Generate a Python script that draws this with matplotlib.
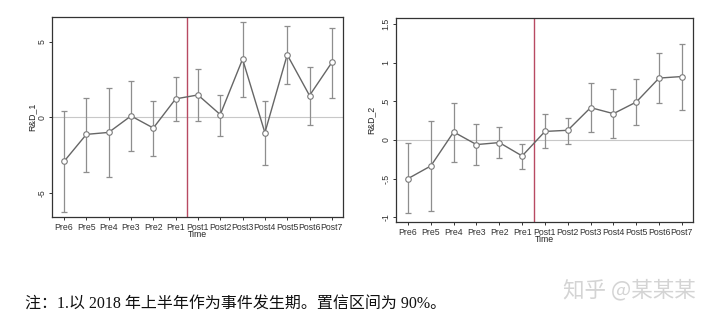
import matplotlib
matplotlib.use("Agg")
import matplotlib.pyplot as plt
import numpy as np

periods = ["Pre6", "Pre5", "Pre4", "Pre3", "Pre2", "Pre1",
           "Post1", "Post2", "Post3", "Post4", "Post5", "Post6", "Post7"]

rd1_coef = [-2.92, -1.13, -1.0, 0.09, -0.71, 1.22, 1.48, 0.18, 3.85, -1.02, 4.14, 1.44, 3.63]
rd1_lo = [-6.28, -3.65, -3.92, -2.23, -2.57, -0.27, -0.27, -1.24, 1.35, -3.19, 2.21, -0.53, 1.31]
rd1_hi = [0.4, 1.31, 1.92, 2.43, 1.1, 2.7, 3.2, 1.5, 6.28, 1.1, 6.02, 3.34, 5.93]

rd2_coef = [-0.5, -0.336, 0.103, -0.06, -0.034, -0.207, 0.11, 0.125, 0.418, 0.34, 0.49, 0.8, 0.82]
rd2_lo = [-0.95, -0.918, -0.28, -0.33, -0.23, -0.37, -0.108, -0.05, 0.103, 0.026, 0.19, 0.474, 0.388]
rd2_hi = [-0.043, 0.246, 0.478, 0.2, 0.17, -0.056, 0.33, 0.29, 0.733, 0.655, 0.79, 1.12, 1.246]

yticks1 = [-5, 0, 5]
yticklabels1 = ["-5", "0", "5"]
yticks2 = [-1, -0.5, 0, 0.5, 1, 1.5]
yticklabels2 = ["-1", "-.5", "0", ".5", "1", "1.5"]

caption = "注：1.以 2018 年上半年作为事件发生期。置信区间为 90%。"
watermark = "知乎 @某某某"

plt.rcParams['font.family'] = ['Liberation Sans', 'DejaVu Sans']

fig = plt.figure(figsize=(7.2, 3.23), dpi=100)
fig.patch.set_facecolor("white")

ax1 = fig.add_axes([52/720, 1-217/323, 291/720, 200/323])
ax2 = fig.add_axes([395.7/720, 1-222.3/323, 297.6/720, 204/323])

def draw(ax, coef, lo, hi, yticks, ylabels, ylim, label, ylab_x):
    x = np.arange(1, len(periods) + 1)
    coef = np.array(coef); lo = np.array(lo); hi = np.array(hi)
    ax.axhline(0, color="#c8c8c8", lw=0.8, zorder=1)
    ax.axvline(6.53, color="#b84a62", lw=1.0, zorder=2)
    ax.errorbar(x, coef, yerr=[coef - lo, hi - coef], fmt="none",
                ecolor="#8e8e8e", elinewidth=0.9, capsize=2, capthick=0.9, zorder=3)
    ax.plot(x, coef, color="#666666", lw=1.0, zorder=4,
            marker="o", markersize=4, markerfacecolor="white",
            markeredgecolor="#7a7a7a", markeredgewidth=0.8)
    ax.set_xlim(0.46, 13.5)
    ax.set_ylim(*ylim)
    ax.set_xticks(x)
    ax.set_xticklabels(periods, fontsize=6.3, color="#222222")
    ax.set_yticks(yticks)
    ax.set_yticklabels(ylabels, fontsize=6.3, rotation=90, va="center", color="#222222")
    ax.tick_params(axis="both", length=2.5, width=0.7, colors="#333333", pad=1.5)
    ax.set_xlabel("Time", fontsize=6.3, labelpad=-1, color="#222222")
    ax.set_ylabel(label, fontsize=6.3, color="#222222")
    ax.yaxis.set_label_coords(ylab_x, 0.5)
    for s in ax.spines.values():
        s.set_color("#333333")
        s.set_linewidth(0.9)

draw(ax1, rd1_coef, rd1_lo, rd1_hi, yticks1, yticklabels1, (-6.6, 6.64), "R&D_1", -0.055)
draw(ax2, rd2_coef, rd2_lo, rd2_hi, yticks2, yticklabels2, (-1.065, 1.573), "R&D_2", -0.068)

fig.text(25/720, 1-305/323, caption, fontsize=11.5, va="center", ha="left",
         family=["Liberation Serif", "Noto Sans CJK SC"], color="#111111")
fig.text(563/720, 1-290.5/323, watermark, fontsize=15.5, va="center", ha="left",
         family=["Noto Sans CJK SC", "DejaVu Sans"], color="#d4d4d4")

fig.savefig("out.png", dpi=100, facecolor="white")
